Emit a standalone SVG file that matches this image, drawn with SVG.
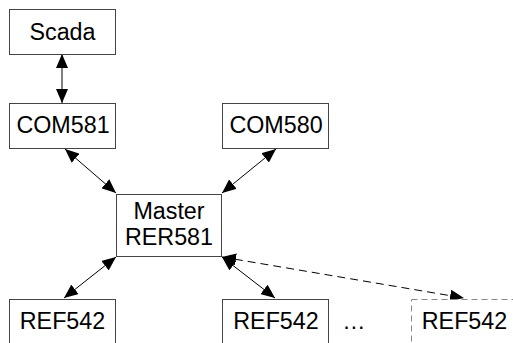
<svg xmlns="http://www.w3.org/2000/svg" width="513" height="343" viewBox="0 0 513 343">
<style>
.box{fill:#fff;stroke:#444;stroke-width:1}
.dbox{fill:#fff;stroke:#888;stroke-width:1;stroke-dasharray:6 4}
.t{font-family:"Liberation Sans",Arial,sans-serif;font-size:23.3px;fill:#000;text-anchor:middle}
.c{stroke:#000;stroke-width:1;fill:none;marker-start:url(#ah);marker-end:url(#ah)}
.d{stroke-dasharray:8 5}
</style>
<defs>
<marker id="ah" viewBox="0 0 14 12" refX="14" refY="6" markerWidth="14" markerHeight="12" markerUnits="userSpaceOnUse" orient="auto-start-reverse">
<path d="M0,0 L14,6 L0,12 z" fill="#000"/>
</marker>
</defs>
<rect width="513" height="343" fill="#fff"/>
<g id="connectors">
<line class="c" x1="62" y1="54" x2="62" y2="103"/>
<line class="c" x1="65" y1="149" x2="116" y2="193"/>
<line class="c" x1="276" y1="149" x2="222" y2="193"/>
<line class="c" x1="116" y1="257" x2="64" y2="298"/>
<line class="c" x1="222" y1="257" x2="275" y2="298"/>
<line class="c d" x1="222" y1="257" x2="464" y2="298"/>
</g>
<g id="scada"><rect class="box" x="9.5" y="9.5" width="106" height="45"/><text class="t" x="62.5" y="40">Scada</text></g>
<g id="com581"><rect class="box" x="9.5" y="103.5" width="106" height="45"/><text class="t" x="63" y="133">COM581</text></g>
<g id="com580"><rect class="box" x="222.5" y="103.5" width="106" height="45"/><text class="t" x="276" y="133">COM580</text></g>
<g id="master"><rect class="box" x="116.5" y="194.5" width="105" height="62"/><text class="t" x="169" y="219">Master</text><text class="t" x="169" y="245">RER581</text></g>
<g id="ref542a"><rect class="box" x="9.5" y="299.5" width="106" height="60"/><text class="t" x="62.5" y="329">REF542</text></g>
<g id="ref542b"><rect class="box" x="222.5" y="299.5" width="106" height="60"/><text class="t" x="276" y="329">REF542</text></g>
<text class="t" x="354" y="329">…</text>
<g id="ref542c"><rect class="dbox" x="411.5" y="299.5" width="106" height="60"/><text class="t" x="464.5" y="329">REF542</text></g>
</svg>
